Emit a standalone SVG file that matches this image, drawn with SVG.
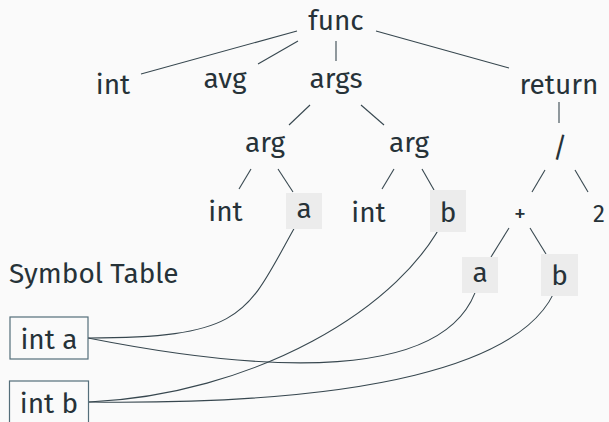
<svg xmlns="http://www.w3.org/2000/svg" width="609" height="422" viewBox="0 0 609 422">
<style>
  text { font-family: "Fira Sans", "Open Sans", "Noto Sans", sans-serif; font-size: 28px; fill: #263238; text-anchor: middle; }
  .edge { stroke: #37474f; stroke-width: 1.1; fill: none; }
  .link { stroke: #37474f; stroke-width: 1.1; fill: none; }
  .hl { fill: #ececec; stroke: none; }
  .sym { fill: none; stroke: #546e7a; stroke-width: 1.2; }
  .small { font-size: 24px; }
</style>
<rect x="0" y="0" width="609" height="422" fill="#fafafa"/>
<g id="connectors">
  <line class="edge" x1="297" y1="31" x2="141" y2="74"/>
  <line class="edge" x1="298" y1="41" x2="258" y2="64"/>
  <line class="edge" x1="336" y1="41" x2="336" y2="61"/>
  <line class="edge" x1="376" y1="31" x2="509" y2="68"/>
  <line class="edge" x1="310" y1="105" x2="289" y2="125"/>
  <line class="edge" x1="361" y1="105" x2="384" y2="125"/>
  <line class="edge" x1="251" y1="169" x2="239" y2="189"/>
  <line class="edge" x1="278" y1="169" x2="293" y2="192"/>
  <line class="edge" x1="394" y1="169" x2="382" y2="189"/>
  <line class="edge" x1="422" y1="169" x2="434" y2="190"/>
  <line class="edge" x1="559" y1="102" x2="559" y2="123"/>
  <line class="edge" x1="545" y1="170" x2="532" y2="192"/>
  <line class="edge" x1="575" y1="170" x2="588" y2="192"/>
  <line class="edge" x1="509" y1="228" x2="491" y2="257"/>
  <line class="edge" x1="530" y1="228" x2="546" y2="254"/>
  <path class="link" d="M88,338 C255,338 246,311 304,211"/>
  <path class="link" d="M88,338 C250,370 460,390 480,275"/>
  <path class="link" d="M89,402 C250,395 405,310 448,211"/>
  <path class="link" d="M89,402 C350,405 540,370 560,275"/>
</g>
<g id="n-func"><text x="336" y="30">func</text></g>
<g id="n-int-ret"><text x="113" y="94">int</text></g>
<g id="n-avg"><text x="225" y="88">avg</text></g>
<g id="n-args"><text x="336" y="88">args</text></g>
<g id="n-return"><text x="559" y="94">return</text></g>
<g id="n-arg1"><text x="265" y="152">arg</text></g>
<g id="n-arg2"><text x="409" y="152">arg</text></g>
<g id="n-div"><text x="560" y="157">/</text></g>
<g id="n-int1"><text x="225.5" y="221">int</text></g>
<g id="n-a1"><rect class="hl" x="286" y="193" width="36" height="36"/><text x="304" y="218">a</text></g>
<g id="n-int2"><text x="368.5" y="222">int</text></g>
<g id="n-b1"><rect class="hl" x="430" y="190" width="36" height="42"/><text x="448" y="222">b</text></g>
<g id="n-plus"><text class="small" x="520" y="222">+</text></g>
<g id="n-two"><text class="small" x="599" y="222">2</text></g>
<g id="n-a2"><rect class="hl" x="462" y="257" width="36" height="36"/><text x="480" y="282">a</text></g>
<g id="n-b2"><rect class="hl" x="541" y="254" width="37" height="42"/><text x="559.5" y="285">b</text></g>
<g id="symtab-title"><text x="9" y="283" style="text-anchor:start">Symbol Table</text></g>
<g id="sym-int-a"><rect class="sym" x="10" y="317" width="78" height="42"/><text x="49" y="349">int a</text></g>
<g id="sym-int-b"><rect class="sym" x="9.5" y="381" width="79" height="42"/><text x="49" y="413">int b</text></g>
</svg>
